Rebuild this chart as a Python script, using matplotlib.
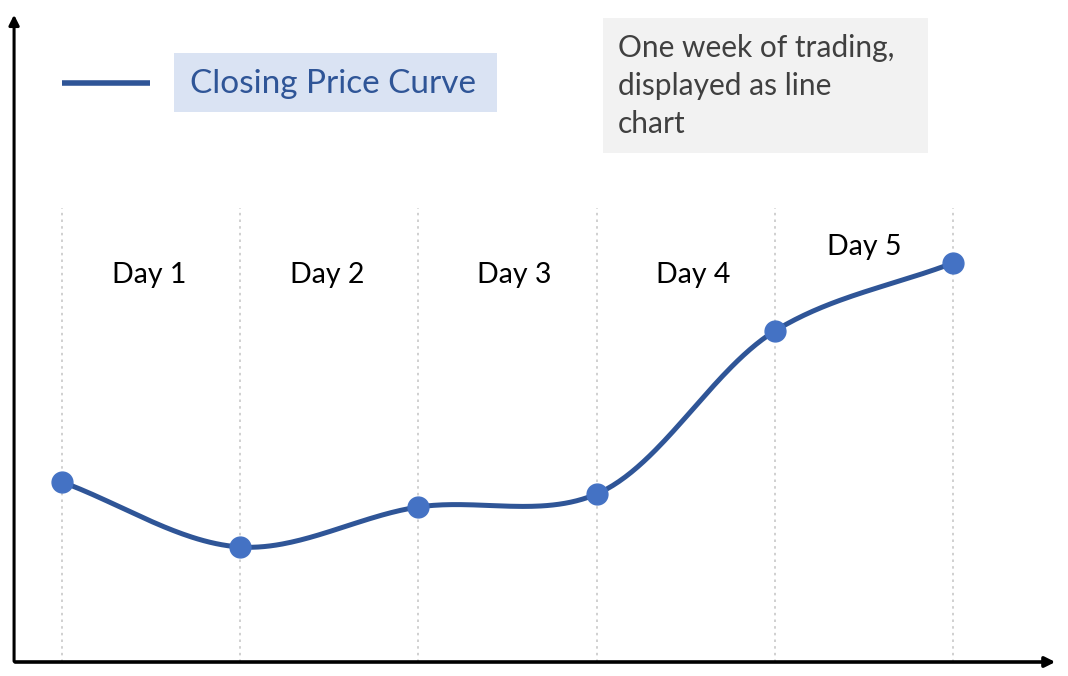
import numpy as np
import matplotlib
matplotlib.use("Agg")
import matplotlib.pyplot as plt
from matplotlib.patches import Rectangle

# closing price per day boundary (arbitrary units)
days = [0, 1, 2, 3, 4, 5]
closing = [18.0, 11.5, 15.5, 16.8, 33.1, 39.9]
day_labels = ["Day 1", "Day 2", "Day 3", "Day 4", "Day 5"]
label_x = [0.49, 1.49, 2.54, 3.54, 4.50]
label_y = [38.7, 38.7, 38.7, 38.7, 41.5]

line_col = "#2F5597"
dot_col = "#4472C4"

plt.rcParams['font.family'] = ['Lato', 'DejaVu Sans']

fig = plt.figure(figsize=(10.68, 6.76), dpi=100)
ax = fig.add_axes([0, 0, 1, 1])
ax.set_xlim(-62 / 178.2, (1068 - 62) / 178.2)
ax.set_ylim(-1.4, 66.2)
ax.axis('off')

# dotted vertical guides
for d in days:
    ax.plot([d, d], [0, 45.4], color="#c8c8c8", lw=1.2, ls=(0, (1.5, 2.5)), zorder=1)

# axes arrows
x0 = -0.269
ax.annotate("", xy=(x0, 65.0), xytext=(x0, -0.2),
            arrowprops=dict(arrowstyle="-|>,head_length=0.6,head_width=0.3", lw=2.2, color="black"))
ax.annotate("", xy=(5.59, 0), xytext=(x0 - 0.01, 0),
            arrowprops=dict(arrowstyle="-|>,head_length=0.6,head_width=0.3", lw=2.6, color="black"))

# smooth curve: centripetal catmull-rom in display space
pts = ax.transData.transform(np.column_stack([days, closing]))
P = np.vstack([pts[0] - (pts[1] - pts[0]), pts, pts[-1] + (pts[-1] - pts[-2])])
curve = []
for i in range(1, len(P) - 2):
    p0, p1, p2, p3 = P[i - 1], P[i], P[i + 1], P[i + 2]
    t0 = 0
    t1 = t0 + np.linalg.norm(p1 - p0) ** 0.5
    t2 = t1 + np.linalg.norm(p2 - p1) ** 0.5
    t3 = t2 + np.linalg.norm(p3 - p2) ** 0.5
    t = np.linspace(t1, t2, 60)[:, None]
    a1 = (t1 - t) / (t1 - t0) * p0 + (t - t0) / (t1 - t0) * p1
    a2 = (t2 - t) / (t2 - t1) * p1 + (t - t1) / (t2 - t1) * p2
    a3 = (t3 - t) / (t3 - t2) * p2 + (t - t2) / (t3 - t2) * p3
    b1 = (t2 - t) / (t2 - t0) * a1 + (t - t0) / (t2 - t0) * a2
    b2 = (t3 - t) / (t3 - t1) * a2 + (t - t1) / (t3 - t1) * a3
    curve.append((t2 - t) / (t2 - t1) * b1 + (t - t1) / (t2 - t1) * b2)
curve = ax.transData.inverted().transform(np.vstack(curve))
ax.plot(curve[:, 0], curve[:, 1], color=line_col, lw=3.6, solid_capstyle='round', zorder=3)
ax.plot(days, closing, 'o', color=dot_col, ms=15, zorder=4)

for lab, lx, ly in zip(day_labels, label_x, label_y):
    ax.text(lx, ly, lab, ha='center', va='center', fontsize=20.5, color="black")

# legend
H = 676.0
ax.plot([0, (150 - 62) / 178.2], [(662 - 83) / 10] * 2, color=line_col, lw=4, solid_capstyle='butt')
fig.patches.append(Rectangle((174 / 1068, 1 - 112 / H), (497 - 174) / 1068, 59 / H,
                             transform=fig.transFigure, facecolor="#DAE3F3", edgecolor='none'))
fig.text(190 / 1068, 1 - 84 / H, "Closing Price Curve", ha='left', va='center',
         fontsize=24, color=line_col)

# note box
fig.patches.append(Rectangle((603 / 1068, 1 - 153 / H), (928 - 603) / 1068, 135 / H,
                             transform=fig.transFigure, facecolor="#F2F2F2", edgecolor='none'))
fig.text(618 / 1068, 1 - 86 / H, "One week of trading,\ndisplayed as line\nchart", ha='left',
         va='center', fontsize=21.5, color="#404040", linespacing=1.42)

fig.savefig("out.png", dpi=100)
